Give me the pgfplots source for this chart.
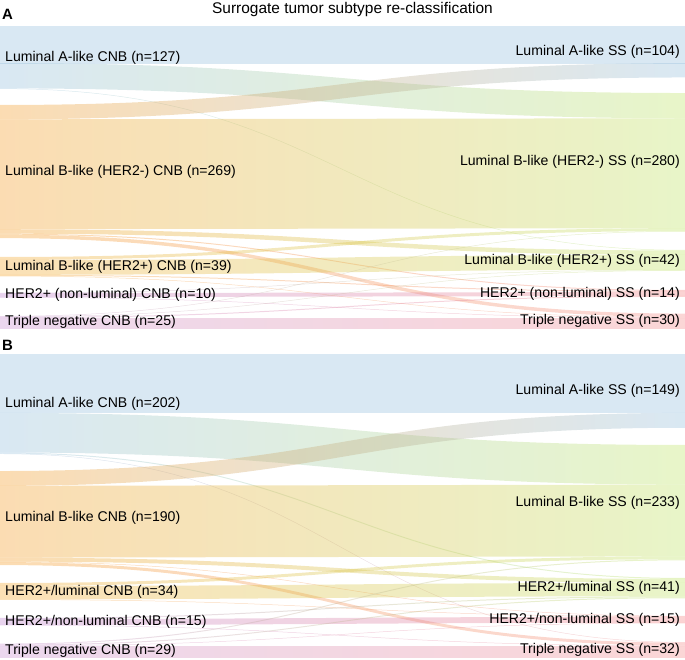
\documentclass[border=0pt]{standalone}
\usepackage{fontspec}
\setmainfont{Liberation Sans}
\usepackage{pgfplots}
\pgfplotsset{compat=1.18}

% node colours: left (CNB) and right (SS)
\definecolor{cL0}{RGB}{146,189,221}
\definecolor{cL1}{RGB}{244,155,35}
\definecolor{cL2}{RGB}{244,166,43}
\definecolor{cL3}{RGB}{189,129,206}
\definecolor{cL4}{RGB}{199,140,206}
\definecolor{cR0}{RGB}{146,189,221}
\definecolor{cR1}{RGB}{189,226,98}
\definecolor{cR2}{RGB}{189,226,98}
\definecolor{cR3}{RGB}{244,129,129}
\definecolor{cR4}{RGB}{244,137,137}

\newcommand\ttl{\fontsize{15.5}{18}\selectfont}
\newcommand\lbl{\fontsize{14.15}{17}\selectfont}

% #1 flows source/target/value, #2 tops of left nodes, #3 tops of right nodes
\newcommand\sankeyflows[3]{%
  \foreach \v [count=\i from 0] in {#2}{%
    \expandafter\xdef\csname lo\i\endcsname{\v}\expandafter\xdef\csname lt\i\endcsname{\v}}%
  \foreach \v [count=\i from 0] in {#3}{%
    \expandafter\xdef\csname ro\i\endcsname{\v}\expandafter\xdef\csname rt\i\endcsname{\v}}%
  \foreach \src/\tgt/\val in {#1}{%
    \edef\ya{\csname lo\src\endcsname}%
    \edef\za{\csname ro\tgt\endcsname}%
    \pgfmathsetmacro\yb{\ya+\val}%
    \pgfmathsetmacro\zb{\za+\val}%
    \expandafter\xdef\csname lo\src\endcsname{\yb}%
    \expandafter\xdef\csname ro\tgt\endcsname{\zb}%
    \edef\doit{\noexpand\path[left color=cL\src, right color=cR\tgt, fill opacity=0.35]
      (axis cs:0,\ya) .. controls (axis cs:0.5,\ya) and (axis cs:0.5,\za) .. (axis cs:1,\za)
      -- (axis cs:1,\zb) .. controls (axis cs:0.5,\zb) and (axis cs:0.5,\yb) .. (axis cs:0,\yb) -- cycle;}%
    \doit
  }%
}

% #1 left labels n/text, #2 right labels n/text
\newcommand\sankeylabels[2]{%
  \foreach \nn/\lab [count=\i from 0] in {#1}{%
    \edef\tp{\csname lt\i\endcsname}%
    \pgfmathsetmacro\yc{\tp+\nn/2}%
    \edef\doit{\noexpand\node[anchor=west, inner sep=0pt, xshift=5bp, font=\noexpand\lbl]
      at (axis cs:0,\yc) {\unexpanded\expandafter{\lab}};}%
    \doit}%
  \foreach \nn/\lab [count=\i from 0] in {#2}{%
    \edef\tp{\csname rt\i\endcsname}%
    \pgfmathsetmacro\yc{\tp+\nn/2}%
    \edef\doit{\noexpand\node[anchor=east, inner sep=0pt, xshift=-5bp, font=\noexpand\lbl]
      at (axis cs:1,\yc) {\unexpanded\expandafter{\lab}};}%
    \doit}%
}

\begin{document}
\begin{tikzpicture}
\useasboundingbox (0,0) rectangle (685bp,-660bp);
\node[font=\ttl] at (352.5bp,-10bp) {Surrogate tumor subtype re-classification};
\node[anchor=west, inner sep=0pt, font=\bfseries\fontsize{15}{17}\selectfont] at (2bp,-14bp) {A};
\node[anchor=west, inner sep=0pt, font=\bfseries\fontsize{15}{17}\selectfont] at (2bp,-345bp) {B};

\begin{axis}[at={(0,-26bp)}, anchor=north west, scale only axis,
  width=685bp, height=302.4bp, xmin=0, xmax=1, ymin=0, ymax=611,
  y dir=reverse, hide axis, clip=false]
  \sankeyflows{0/0/75, 0/1/51, 0/2/1,
    1/0/29, 1/1/222, 1/2/9, 1/3/2, 1/4/7,
    2/1/6, 2/2/30, 2/3/2, 2/4/1,
    3/2/1, 3/3/8, 3/4/1,
    4/1/1, 4/2/1, 4/3/2, 4/4/21}
    {0,159.6,466.7,539,586}{0,135.4,452.5,533.3,581}
  \sankeylabels{127/{Luminal A-like CNB (n=127)}, 269/{Luminal B-like (HER2-) CNB (n=269)},
    39/{Luminal B-like (HER2+) CNB (n=39)}, 10/{HER2+ (non-luminal) CNB (n=10)},
    25/{Triple negative CNB (n=25)}}
    {104/{Luminal A-like SS (n=104)}, 280/{Luminal B-like (HER2-) SS (n=280)},
    42/{Luminal B-like (HER2+) SS (n=42)}, 14/{HER2+ (non-luminal) SS (n=14)},
    30/{Triple negative SS (n=30)}}
\end{axis}

\begin{axis}[at={(0,-354bp)}, anchor=north west, scale only axis,
  width=685bp, height=303.9bp, xmin=0, xmax=1, ymin=0, ymax=614,
  y dir=reverse, hide axis, clip=false]
  \sankeyflows{0/0/119, 0/1/80, 0/2/2, 0/4/1,
    1/0/30, 1/1/145, 1/2/8, 1/3/1, 1/4/6,
    2/1/6, 2/2/27, 2/3/1,
    3/2/2, 3/3/12, 3/4/1,
    4/1/2, 4/2/2, 4/3/1, 4/4/24}
    {0,236.4,462.6,533.3,585}{0,183.8,452.5,529,582}
  \sankeylabels{202/{Luminal A-like CNB (n=202)}, 190/{Luminal B-like CNB (n=190)},
    34/{HER2+/luminal CNB (n=34)}, 15/{HER2+/non-luminal CNB (n=15)},
    29/{Triple negative CNB (n=29)}}
    {149/{Luminal A-like SS (n=149)}, 233/{Luminal B-like SS (n=233)},
    41/{HER2+/luminal SS (n=41)}, 15/{HER2+/non-luminal SS (n=15)},
    32/{Triple negative SS (n=32)}}
\end{axis}
\end{tikzpicture}
\end{document}
